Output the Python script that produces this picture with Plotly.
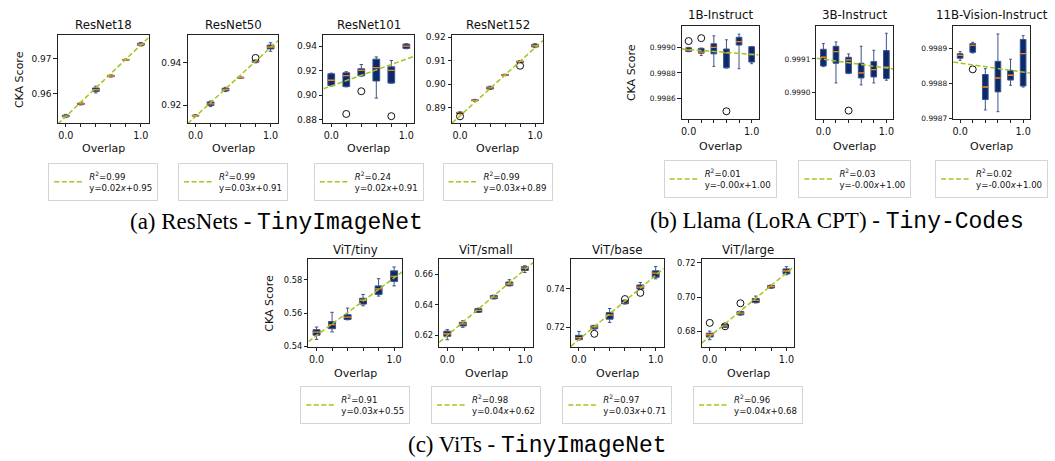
import numpy as np
import plotly.graph_objects as go

W, H = 1055, 461
FONT = "DejaVu Sans"

overlap = [0.0, 0.2, 0.4, 0.6, 0.8, 1.0]
overlap_labels = ["0.0", "1.0"]

# Box statistics per overlap level: (lower whisker, q1, median, q3, upper whisker)
# Fliers: (overlap, score).  Fit: (slope, intercept, R^2)

# ---- ResNets on TinyImageNet ----
resnet18_boxes = [
    (0.9533, 0.9535, 0.9537, 0.9540, 0.9542),
    (0.9569, 0.9570, 0.9572, 0.9574, 0.9575),
    (0.9603, 0.9607, 0.9612, 0.9617, 0.9622),
    (0.9648, 0.9649, 0.9651, 0.9653, 0.9654),
    (0.9695, 0.9696, 0.9697, 0.9698, 0.9699),
    (0.9736, 0.9738, 0.9741, 0.9744, 0.9746),
]
resnet18_fliers = []
resnet18_fit = (0.0203, 0.9536, 0.99)

resnet50_boxes = [
    (0.9148, 0.9150, 0.9152, 0.9154, 0.9156),
    (0.9194, 0.9199, 0.9207, 0.9216, 0.9220),
    (0.9264, 0.9267, 0.9273, 0.9280, 0.9284),
    (0.9326, 0.9327, 0.9329, 0.9331, 0.9332),
    (0.9398, 0.9401, 0.9405, 0.9409, 0.9412),
    (0.9452, 0.9463, 0.9472, 0.9481, 0.9492),
]
resnet50_fliers = [(0.8, 0.9421)]
resnet50_fit = (0.0322, 0.9148, 0.99)

resnet101_boxes = [
    (0.9075, 0.9078, 0.9122, 0.9175, 0.9180),
    (0.9068, 0.9070, 0.9160, 0.9183, 0.9192),
    (0.9155, 0.9158, 0.9203, 0.9216, 0.9251),
    (0.8976, 0.9116, 0.9226, 0.9295, 0.9313),
    (0.9097, 0.9099, 0.9203, 0.9232, 0.9284),
    (0.9380, 0.9383, 0.9401, 0.9418, 0.9421),
]
resnet101_fliers = [(0.2, 0.8846), (0.4, 0.9032), (0.8, 0.8828)]
resnet101_fit = (0.0220, 0.9075, 0.24)

resnet152_boxes = [
    (0.8874, 0.8876, 0.8878, 0.8881, 0.8883),
    (0.8928, 0.8930, 0.8932, 0.8934, 0.8936),
    (0.8978, 0.8980, 0.8985, 0.8989, 0.8992),
    (0.9037, 0.9038, 0.9040, 0.9042, 0.9043),
    (0.9091, 0.9093, 0.9096, 0.9099, 0.9101),
    (0.9156, 0.9159, 0.9164, 0.9170, 0.9173),
]
resnet152_fliers = [(0.0, 0.8864), (0.8, 0.9079)]
resnet152_fit = (0.0290, 0.8866, 0.99)

# ---- Llama (LoRA CPT) on Tiny-Codes ----
llama1b_boxes = [
    (0.998966, 0.998968, 0.998979, 0.998997, 0.999000),
    (0.998936, 0.998954, 0.998962, 0.998992, 0.998994),
    (0.998851, 0.998949, 0.999000, 0.999028, 0.999090),
    (0.998838, 0.998840, 0.998956, 0.998987, 0.999059),
    (0.998833, 0.999018, 0.999044, 0.999079, 0.999103),
    (0.998872, 0.998885, 0.998944, 0.999005, 0.999007),
]
llama1b_fliers = [(0.0, 0.999049), (0.2, 0.999072), (0.6, 0.998500)]
llama1b_fit = (-0.000038, 0.998983, 0.01)

llama3b_boxes = [
    (0.999077, 0.999079, 0.999105, 0.999129, 0.999146),
    (0.999028, 0.999087, 0.999122, 0.999138, 0.999151),
    (0.999056, 0.999057, 0.999097, 0.999105, 0.999115),
    (0.999022, 0.999043, 0.999058, 0.999087, 0.999138),
    (0.999028, 0.999046, 0.999068, 0.999092, 0.999126),
    (0.999036, 0.999041, 0.999075, 0.999125, 0.999177),
]
llama3b_fliers = [(0.4, 0.998945)]
llama3b_fit = (-0.000026, 0.999099, 0.03)

llama11b_boxes = [
    (0.998867, 0.998873, 0.998881, 0.998886, 0.998892),
    (0.998888, 0.998890, 0.998910, 0.998915, 0.998919),
    (0.998724, 0.998754, 0.998790, 0.998826, 0.998843),
    (0.998719, 0.998776, 0.998816, 0.998864, 0.998943),
    (0.998795, 0.998810, 0.998824, 0.998838, 0.998870),
    (0.998790, 0.998793, 0.998886, 0.998927, 0.998938),
]
llama11b_fliers = [(0.2, 0.998841)]
llama11b_fit = (-0.000026, 0.998859, 0.02)

# ---- ViTs on TinyImageNet ----
vit_tiny_boxes = [
    (0.5443, 0.5468, 0.5486, 0.5501, 0.5517),
    (0.5488, 0.5507, 0.5531, 0.5550, 0.5605),
    (0.5560, 0.5562, 0.5576, 0.5591, 0.5630),
    (0.5644, 0.5654, 0.5677, 0.5689, 0.5712),
    (0.5702, 0.5712, 0.5745, 0.5763, 0.5806),
    (0.5763, 0.5790, 0.5820, 0.5853, 0.5876),
]
vit_tiny_fliers = []
vit_tiny_fit = (0.0345, 0.5466, 0.91)

vit_small_boxes = [
    (0.6172, 0.6194, 0.6211, 0.6228, 0.6238),
    (0.6253, 0.6262, 0.6275, 0.6286, 0.6296),
    (0.6350, 0.6352, 0.6364, 0.6375, 0.6378),
    (0.6438, 0.6440, 0.6450, 0.6461, 0.6463),
    (0.6523, 0.6525, 0.6536, 0.6549, 0.6564),
    (0.6611, 0.6624, 0.6639, 0.6649, 0.6655),
]
vit_small_fliers = []
vit_small_fit = (0.0430, 0.6200, 0.98)

vit_base_boxes = [
    (0.7134, 0.7136, 0.7146, 0.7158, 0.7178),
    (0.7190, 0.7192, 0.7202, 0.7208, 0.7210),
    (0.7225, 0.7242, 0.7263, 0.7276, 0.7297),
    (0.7320, 0.7322, 0.7331, 0.7339, 0.7341),
    (0.7396, 0.7398, 0.7408, 0.7419, 0.7432),
    (0.7451, 0.7459, 0.7480, 0.7492, 0.7514),
]
vit_base_fliers = [(0.2, 0.7166), (0.6, 0.7346), (0.8, 0.7378)]
vit_base_fit = (0.0333, 0.7136, 0.97)

vit_large_boxes = [
    (0.6752, 0.6768, 0.6781, 0.6790, 0.6802),
    (0.6823, 0.6825, 0.6832, 0.6840, 0.6842),
    (0.6895, 0.6897, 0.6907, 0.6916, 0.6918),
    (0.6966, 0.6968, 0.6981, 0.6992, 0.7006),
    (0.7051, 0.7053, 0.7061, 0.7068, 0.7070),
    (0.7130, 0.7135, 0.7152, 0.7164, 0.7177),
]
vit_large_fliers = [(0.0, 0.6850), (0.2, 0.6830), (0.4, 0.6964)]
vit_large_fit = (0.0370, 0.6771, 0.96)

# ---- styling ----
NAVY = "#0b2a6e"
EDGE = "#3e5486"
MEDIAN = "#ff7f0e"
FIT = "#a4c41f"
FRAME = "#222222"
BOX_W = 0.09

# per-group settings: x range, y tick font, legend top, title y, xlabel y, ylabel x
groups = {
    "resnet": dict(xr=[-0.105, 1.105], ytick=9, title_y=22.5, xlab_y=148, leg_top=163,
                   ylab_x=18, top=33, bottom=122),
    "llama": dict(xr=[-0.11, 1.11], ytick=7.4, title_y=12.5, xlab_y=146.5, leg_top=160,
                  ylab_x=631, top=23, bottom=118),
    "vit": dict(xr=[-0.105, 1.105], ytick=8.3, title_y=251, xlab_y=377.5, leg_top=390,
                ylab_x=269, top=261, bottom=350),
}

panels = [
    ("ResNet18", resnet18_boxes, resnet18_fliers, resnet18_fit, "resnet", (57, 148),
     [0.96, 0.97], ".2f", [0.9518, 0.9766], True),
    ("ResNet50", resnet50_boxes, resnet50_fliers, resnet50_fit, "resnet", (187, 278),
     [0.92, 0.94], ".2f", [0.9118, 0.9526], False),
    ("ResNet101", resnet101_boxes, resnet101_fliers, resnet101_fit, "resnet", (323, 414),
     [0.88, 0.90, 0.92, 0.94], ".2f", [0.8773, 0.9489], False),
    ("ResNet152", resnet152_boxes, resnet152_fliers, resnet152_fit, "resnet", (452, 543),
     [0.89, 0.90, 0.91, 0.92], ".2f", [0.8836, 0.9208], False),
    ("1B-Instruct", llama1b_boxes, llama1b_fliers, llama1b_fit, "llama", (682, 759),
     [0.9986, 0.9988, 0.9990], ".4f", [0.99844, 0.99917], True),
    ("3B-Instruct", llama3b_boxes, llama3b_fliers, llama3b_fit, "llama", (817, 894),
     [0.9990, 0.9991], ".4f", [0.99892, 0.99920], False),
    ("11B-Vision-Instruct", llama11b_boxes, llama11b_fliers, llama11b_fit, "llama", (954, 1031),
     [0.9987, 0.9988, 0.9989], ".4f", [0.998698, 0.998967], False),
    ("ViT/tiny", vit_tiny_boxes, vit_tiny_fliers, vit_tiny_fit, "vit", (308, 402),
     [0.54, 0.56, 0.58], ".2f", [0.5398, 0.5921], True),
    ("ViT/small", vit_small_boxes, vit_small_fliers, vit_small_fit, "vit", (439, 533),
     [0.62, 0.64, 0.66], ".2f", [0.6125, 0.6696], False),
    ("ViT/base", vit_base_boxes, vit_base_fliers, vit_base_fit, "vit", (571, 664),
     [0.72, 0.74], ".2f", [0.7098, 0.7551], False),
    ("ViT/large", vit_large_boxes, vit_large_fliers, vit_large_fit, "vit", (702, 795),
     [0.68, 0.70, 0.72], ".2f", [0.671, 0.7219], False),
]

fig = go.Figure()
layout = {}
annotations = []


def ann(text, x, y, size, angle=0, **kw):
    annotations.append(dict(text=text, x=x / W, y=1 - y / H, xref="paper", yref="paper",
                            showarrow=False, textangle=angle, xanchor="center",
                            yanchor="middle", font=dict(family=FONT, size=size, color="#111"),
                            **kw))


for i, (title, boxes, fliers, fit, grp, (left, right), yticks, yfmt, yrange, ylab) in enumerate(panels):
    g = groups[grp]
    n = "" if i == 0 else str(i + 1)
    xa, ya = "x" + n, "y" + n
    leg = "legend" + n

    layout["xaxis" + n] = dict(
        domain=[left / W, right / W], anchor=ya, range=g["xr"],
        tickvals=[overlap[0], overlap[-1]], ticktext=overlap_labels,
        ticks="outside", ticklen=3.5, tickwidth=0.8, tickcolor=FRAME,
        minor=dict(tickvals=overlap[1:-1], ticks="outside", ticklen=3.5,
                   tickwidth=0.8, tickcolor=FRAME, showgrid=False),
        showline=True, linecolor=FRAME, linewidth=1, mirror=True,
        showgrid=False, zeroline=False,
        tickfont=dict(family=FONT, size=9.6, color="#111"),
    )
    layout["yaxis" + n] = dict(
        domain=[1 - g["bottom"] / H, 1 - g["top"] / H], anchor=xa, range=yrange,
        tickvals=yticks, tickformat=yfmt,
        ticks="outside", ticklen=3.5, tickwidth=0.8, tickcolor=FRAME,
        showline=True, linecolor=FRAME, linewidth=1, mirror=True,
        showgrid=False, zeroline=False,
        tickfont=dict(family=FONT, size=g["ytick"], color="#111"),
    )

    lo, q1, med, q3, hi = (list(v) for v in zip(*boxes))
    fig.add_trace(go.Box(
        x=overlap, q1=q1, median=med, q3=q3, lowerfence=lo, upperfence=hi,
        width=BOX_W, whiskerwidth=0.5, fillcolor=NAVY,
        line=dict(color=EDGE, width=1), boxpoints=False,
        showlegend=False, hoverinfo="skip", xaxis=xa, yaxis=ya,
    ))

    # orange median bars across each box
    mx, my = [], []
    for p, m in zip(overlap, med):
        mx += [p - BOX_W / 2, p + BOX_W / 2, None]
        my += [m, m, None]
    fig.add_trace(go.Scatter(x=mx, y=my, mode="lines", line=dict(color=MEDIAN, width=1.3),
                             showlegend=False, hoverinfo="skip", xaxis=xa, yaxis=ya))

    if fliers:
        fx, fy = zip(*fliers)
        fig.add_trace(go.Scatter(
            x=list(fx), y=list(fy), mode="markers",
            marker=dict(symbol="circle-open", size=7, color="#111", line=dict(width=1)),
            showlegend=False, hoverinfo="skip", xaxis=xa, yaxis=ya,
        ))

    slope, intercept, r2 = fit
    lx = np.array(g["xr"])
    label = f"<i>R</i><sup>2</sup>=" + f"{r2:.2f}" + "<br>" + f"y={slope:.2f}<i>x</i>+{intercept:.2f}"
    fig.add_trace(go.Scatter(
        x=lx, y=slope * lx + intercept, mode="lines",
        line=dict(color=FIT, width=1.5, dash="5px,2.5px"),
        name=label, legend=leg, showlegend=True, hoverinfo="skip", xaxis=xa, yaxis=ya,
    ))

    cx = (left + right) / 2
    layout[leg] = dict(
        x=cx / W, y=1 - g["leg_top"] / H, xref="paper", yref="paper",
        xanchor="center", yanchor="top", bgcolor="white",
        bordercolor="#d4d4d4", borderwidth=1, itemwidth=30, tracegroupgap=0,
        font=dict(family=FONT, size=8.6, color="#111"), valign="middle",
    )

    ann(title, cx, g["title_y"], 11.8)
    ann("Overlap", cx, g["xlab_y"], 11)
    if ylab:
        ann("CKA Score", g["ylab_x"], (g["top"] + g["bottom"]) / 2, 11, angle=-90)

# group captions
MONO = "font-family:'Liberation Mono'"
cap_font = dict(family="Liberation Serif", size=23, color="#000")
for text, x, y in [
    (f"(a) ResNets - <span style=\"{MONO}\">TinyImageNet</span>", 276, 223),
    (f"(b) Llama (LoRA CPT) - <span style=\"{MONO}\">Tiny-Codes</span>", 838, 222),
    (f"(c) ViTs - <span style=\"{MONO}\">TinyImageNet</span>", 538, 450),
]:
    annotations.append(dict(text=text, x=x / W, y=1 - y / H, xref="paper", yref="paper",
                            showarrow=False, xanchor="center", yanchor="middle", font=cap_font))

fig.update_layout(
    width=W, height=H, margin=dict(l=0, r=0, t=0, b=0),
    paper_bgcolor="white", plot_bgcolor="white",
    annotations=annotations, **layout,
)

fig.write_html("out.html")
